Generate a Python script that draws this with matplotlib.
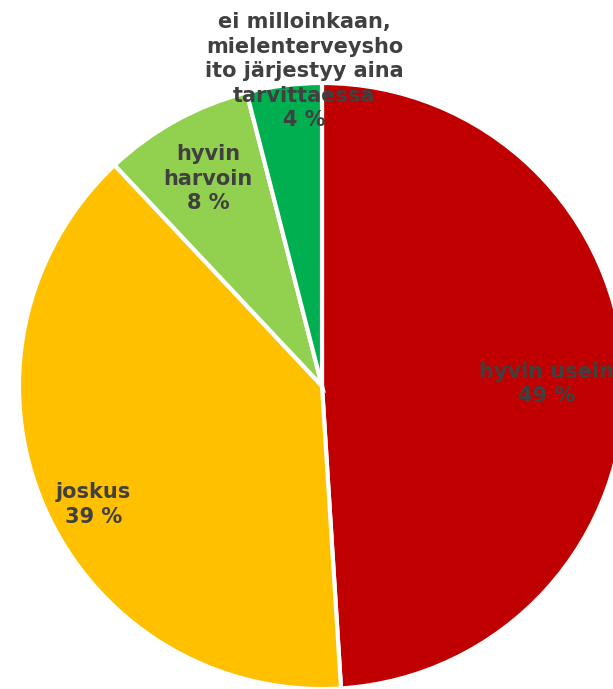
import numpy as np
import matplotlib
matplotlib.use('Agg')
import matplotlib.pyplot as plt

# data
labels = ['hyvin usein', 'joskus', 'hyvin\nharvoin',
          'ei milloinkaan,\nmielenterveysho\nito järjestyy aina\ntarvittaessa']
values = [49, 39, 8, 4]
colours = ['#C00000', '#FFC000', '#92D050', '#00B050']
# label placement: distance (fraction of radius) and angle shift in degrees
label_r = [0.74, 0.85, 0.78, 1.04]
label_shift = [-1.3, 4.0, 0.0, -4.0]

W, H = 613, 689
fig = plt.figure(figsize=(W/100.0, H/100.0), dpi=100)
cx, cy, R = 322, 386, 303
ax = fig.add_axes([(cx-R)/W, (H-cy-R)/H, 2*R/W, 2*R/H])
ax.set_axis_off()

wedges, _ = ax.pie(values, colors=colours, startangle=90, counterclock=False,
                   wedgeprops=dict(edgecolor='white', linewidth=3),
                   radius=1.0, frame=False)
for w in wedges:
    w.set_clip_on(False)
ax.set_xlim(-1, 1)
ax.set_ylim(-1, 1)

for w, lab, v, r, s in zip(wedges, labels, values, label_r, label_shift):
    ang = np.deg2rad((w.theta1 + w.theta2)/2.0 + s)
    ax.text(r*np.cos(ang), r*np.sin(ang), '%s\n%d %%' % (lab, v),
            ha='center', va='center', fontsize=15, fontweight='bold',
            color='#404040', linespacing=1.28, clip_on=False)

fig.savefig('out.png', dpi=100)
